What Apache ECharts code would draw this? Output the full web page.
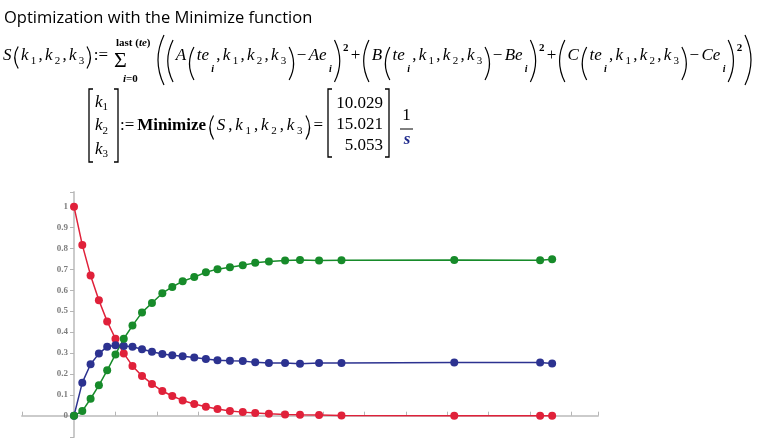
<!DOCTYPE html>
<html>
<head>
<meta charset="utf-8">
<script src="https://cdn.jsdelivr.net/npm/echarts@6/dist/echarts.min.js"></script>
<style>
  html, body { margin: 0; padding: 0; background: #fff; }
  #chart { width: 758px; height: 441px; }
</style>
</head>
<body>
<div id="chart"></div>
<script>
// measured time points (s)
const te = [0, 0.02, 0.04, 0.06, 0.08, 0.1, 0.12, 0.141, 0.164, 0.188, 0.213, 0.237, 0.262,
  0.29, 0.318, 0.346, 0.376, 0.407, 0.437, 0.47, 0.509, 0.545, 0.591, 0.645, 0.917, 1.124, 1.153];
// concentrations A, B, C
const Ae = [1, 0.817, 0.671, 0.552, 0.451, 0.368, 0.298, 0.238, 0.19, 0.152, 0.118, 0.094, 0.073,
  0.056, 0.043, 0.032, 0.022, 0.017, 0.013, 0.009, 0.006, 0.004, 0.003, 0.001, 0, 0, 0];
const Be = [0, 0.158, 0.246, 0.297, 0.33, 0.337, 0.333, 0.33, 0.318, 0.306, 0.295, 0.289, 0.284,
  0.278, 0.271, 0.265, 0.263, 0.262, 0.255, 0.252, 0.252, 0.248, 0.252, 0.252, 0.254, 0.254, 0.25];
const Ce = [0, 0.022, 0.081, 0.145, 0.217, 0.293, 0.368, 0.431, 0.494, 0.539, 0.586, 0.616, 0.643,
  0.663, 0.686, 0.701, 0.71, 0.72, 0.731, 0.737, 0.742, 0.745, 0.742, 0.743, 0.745, 0.743, 0.748];

const xTicks = [0, 0.1, 0.2, 0.3, 0.4, 0.5, 0.6, 0.7, 0.8, 0.9, 1, 1.1, 1.2];
const yTicks = [0, 0.1, 0.2, 0.3, 0.4, 0.5, 0.6, 0.7, 0.8, 0.9, 1];
const kResult = ['10.029', '15.021', '5.053'];

const X_MIN = -0.1254, X_MAX = 1.2636;
const Y_MIN = -0.102, Y_MAX = 1.07;

const RED = '#e0213a', BLUE = '#2c3290', GREEN = '#178b2a';

// ---------- formula text (laid out token by token) ----------
const SERIF = '"Liberation Serif", "Times New Roman", serif';
const mctx = document.createElement('canvas').getContext('2d');
function textW(font, s) { mctx.font = font; return mctx.measureText(s).width; }

const FONTS = {
  v: 'italic 17px ' + SERIF,
  n: '17px ' + SERIF,
  b: 'bold 17px ' + SERIF,
  sd: '11px ' + SERIF,
  si: 'italic bold 10px ' + SERIF,
  sq: 'bold 11px ' + SERIF,
  s: 'bold 11px ' + SERIF,
  sv: 'italic bold 11px ' + SERIF
};

// token: [text, font key, dy, scaleY]; font key 'P' = stretched paren, 4th item = its height
function tokW(t) { return t[1] === 'P' ? 3 + t[3] * 0.09 : textW(FONTS[t[1]], t[0]); }

function paren(t, x, yc, w) {
  const h = t[3], cy = yc + (t[2] || 0);
  const open = t[0] === '(';
  const xe = open ? x + w - 0.5 : x + 0.5;        // end points
  const xm = open ? x + 1 : x + w - 1;            // bulge
  return {
    type: 'bezierCurve',
    shape: { x1: xe, y1: cy - h / 2, x2: xe, y2: cy + h / 2, cpx1: 2 * xm - xe, cpy1: cy },
    style: { stroke: '#000', lineWidth: 1.2, fill: null }
  };
}

function row(x0, yc, tokens, x1) {
  const ws = tokens.map(tokW);
  const total = ws.reduce((a, b) => a + b, 0);
  const slack = x1 ? (x1 - x0 - total) / (tokens.length - 1) : 0;
  let x = x0;
  return tokens.map((t, i) => {
    const el = t[1] === 'P' ? paren(t, x, yc, ws[i]) : {
      type: 'text', x: x, y: yc + (t[2] || 0),
      style: { text: t[0], font: FONTS[t[1]], fill: '#000', verticalAlign: 'middle' }
    };
    x += ws[i] + slack;
    return el;
  });
}

const kargs = () => [['k', 'v'], ['1', 'sd', 5], [',', 'n'], ['k', 'v'], ['2', 'sd', 5], [',', 'n'],
  ['k', 'v'], ['3', 'sd', 5]];
const args = () => [['(', 'P', 7.5, 33], ['te', 'v'], ['i', 'si', 13], [',', 'n'], ...kargs(), [')', 'P', 7.5, 33]];
const group = L => [['(', 'P', 5, 42], [L, 'v'], ...args(), ['\u2212', 'n'], [L + 'e', 'v'], ['i', 'si', 13],
  [')', 'P', 5, 42], ['2', 'sq', -8]];

function bracket(x, y0, y1, dir) {
  return {
    type: 'polyline',
    shape: { points: [[x + 4 * dir, y0], [x, y0], [x, y1], [x + 4 * dir, y1]] },
    style: { stroke: '#000', lineWidth: 1.3, fill: null }
  };
}

const formula = [].concat(
  [{ type: 'text', x: 4, y: 18, style: { text: 'Optimization with the Minimize function',
    font: '16.5px "Open Sans", sans-serif', fill: '#000', verticalAlign: 'middle' } }],
  row(3, 56, [['S', 'v'], ['(', 'P', 1.5, 22], ...kargs(), [')', 'P', 1.5, 22], [':=', 'n']], 108),
  [{ type: 'text', x: 114, y: 61, style: { text: '\u03A3', font: '22px ' + SERIF, fill: '#000', verticalAlign: 'middle' } }],
  row(116, 43.5, [['last ', 's'], ['(', 's'], ['te', 'sv'], [')', 's']]),
  row(123, 79, [['i', 'sv'], ['=', 's'], ['0', 's']]),
  row(157, 56, [['(', 'P', 4, 50], ...group('A'), ['+', 'n'], ...group('B'), ['+', 'n'], ...group('C'),
    [')', 'P', 4, 50]], 752),
  // k vector
  [bracket(89, 89, 162, 1), bracket(118, 89, 162, -1)],
  row(95, 102.5, [['k', 'v'], ['1', 'sd', 5]]),
  row(95, 126, [['k', 'v'], ['2', 'sd', 5]]),
  row(95, 149.5, [['k', 'v'], ['3', 'sd', 5]]),
  row(120, 126, [[':=', 'n'], ['Minimize', 'b'], ['(', 'P', 1.5, 24], ['S', 'v'], [',', 'n'], ...kargs(),
    [')', 'P', 1.5, 24], ['=', 'n']], 323),
  // result vector
  [bracket(328, 89, 157, 1), bracket(389, 89, 157, -1)],
  kResult.map((s, i) => ({ type: 'text', x: 383, y: 104 + 21 * i,
    style: { text: s, font: FONTS.n, fill: '#000', align: 'right', verticalAlign: 'middle' } })),
  [
    { type: 'text', x: 406.5, y: 116, style: { text: '1', font: FONTS.n, fill: '#000', align: 'center', verticalAlign: 'middle' } },
    { type: 'line', shape: { x1: 400, y1: 129, x2: 413, y2: 129 }, style: { stroke: '#000', lineWidth: 1 } },
    { type: 'text', x: 407, y: 139.5, style: { text: 's', font: 'italic bold 17px ' + SERIF, fill: '#1f2a8c', align: 'center', verticalAlign: 'middle' } }
  ]
);

// ---------- chart ----------
const chart = echarts.init(document.getElementById('chart'));
const tickLabel = { fontFamily: SERIF, fontWeight: 'bold', fontSize: 9, color: '#7d7d7d' };

function mk(name, vals, color) {
  return {
    name: name, type: 'line',
    data: te.map((t, i) => [t, vals[i]]),
    symbol: 'circle', symbolSize: 8, showAllSymbol: true,
    lineStyle: { color: color, width: 1.5 },
    itemStyle: { color: color },
    emphasis: { disabled: true }
  };
}

chart.setOption({
  animation: false,
  backgroundColor: '#fff',
  grid: { left: 22, right: 160, top: 192, bottom: 4, outerBoundsMode: 'none' },
  xAxis: {
    type: 'value', min: X_MIN, max: X_MAX,
    splitLine: { show: false },
    axisLine: { show: true, onZero: true, lineStyle: { color: '#cbcbcb', width: 2 } },
    axisTick: { show: true, inside: true, length: 4, customValues: [X_MIN].concat(xTicks, [X_MAX]),
      lineStyle: { color: '#b5b5b5', width: 1 } },
    axisLabel: Object.assign({ customValues: xTicks, margin: 6, formatter: v => String(v) }, tickLabel)
  },
  yAxis: {
    type: 'value', min: Y_MIN, max: Y_MAX,
    // place the axis at x = 0 (grid left is at x = -0.1254)
    offset: -52,
    splitLine: { show: false },
    axisLine: { show: true, onZero: false, lineStyle: { color: '#cbcbcb', width: 2 } },
    axisTick: { show: true, length: 4, customValues: [Y_MIN].concat(yTicks, [Y_MAX]),
      lineStyle: { color: '#b5b5b5', width: 1 } },
    axisLabel: Object.assign({ customValues: yTicks, margin: 6, formatter: v => String(v) }, tickLabel)
  },
  series: [mk('A', Ae, RED), mk('B', Be, BLUE), mk('C', Ce, GREEN)],
  graphic: { elements: formula }
});
</script>
</body>
</html>
